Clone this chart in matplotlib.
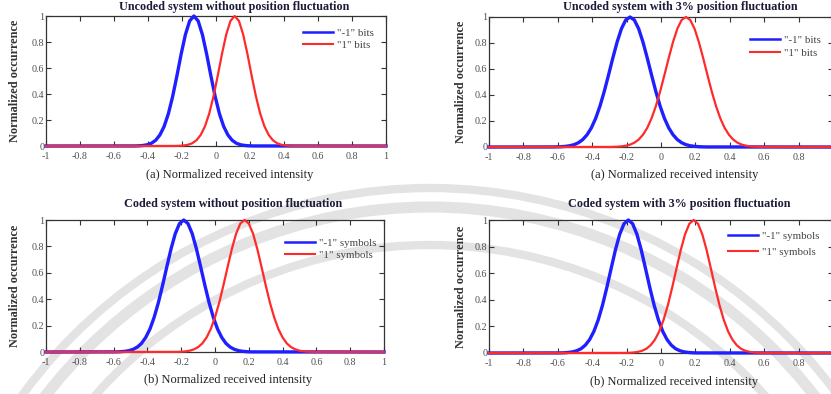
import matplotlib
matplotlib.use("Agg")
import matplotlib.pyplot as plt
from matplotlib.patches import Arc

# ---- data: normalized occurrence vs normalized received intensity ----
# (a) uncoded, no position fluctuation
p1_neg_x = [-1, -0.48, -0.455, -0.43, -0.405, -0.38, -0.355, -0.33, -0.305, -0.28, -0.255,
            -0.23, -0.205, -0.18, -0.155, -0.13, -0.105, -0.08, -0.055, -0.03, -0.005,
            0.02, 0.045, 0.07, 0.095, 0.12, 0.145, 0.17, 0.195, 0.22, 1]
p1_pos_x = [-1, -0.24, -0.215, -0.19, -0.165, -0.14, -0.115, -0.09, -0.065, -0.04, -0.015,
            0.01, 0.035, 0.06, 0.085, 0.11, 0.135, 0.16, 0.185, 0.21, 0.235,
            0.26, 0.285, 0.31, 0.335, 0.36, 0.385, 0.41, 0.435, 0.46, 1]
p1_y = [0, 0.0005, 0.0015, 0.0039, 0.0094, 0.021, 0.044, 0.085, 0.151, 0.249, 0.381,
        0.539, 0.707, 0.857, 0.962, 1.0, 0.962, 0.857, 0.707, 0.539, 0.381,
        0.249, 0.151, 0.085, 0.044, 0.021, 0.0094, 0.0039, 0.0015, 0.0005, 0]

# (a) uncoded, 3% position fluctuation
p2_neg_x = [-1, -0.63, -0.605, -0.58, -0.555, -0.53, -0.505, -0.48, -0.455, -0.43, -0.405,
            -0.38, -0.355, -0.33, -0.305, -0.28, -0.255, -0.23, -0.205, -0.18, -0.155,
            -0.13, -0.105, -0.08, -0.055, -0.03, -0.005, 0.02, 0.045, 0.07, 0.095,
            0.12, 0.145, 0.17, 0.195, 0.22, 0.245, 0.27, 1]
p2_pos_x = [-1, -0.305, -0.28, -0.255, -0.23, -0.205, -0.18, -0.155, -0.13, -0.105, -0.08,
            -0.055, -0.03, -0.005, 0.02, 0.045, 0.07, 0.095, 0.12, 0.145, 0.17,
            0.195, 0.22, 0.245, 0.27, 0.295, 0.32, 0.345, 0.37, 0.395, 0.42,
            0.445, 0.47, 0.495, 0.52, 0.545, 0.57, 0.595, 1]
p2_y = [0, 0.0005, 0.0011, 0.0024, 0.0049, 0.0097, 0.018, 0.033, 0.057, 0.094, 0.147,
        0.220, 0.314, 0.427, 0.554, 0.685, 0.808, 0.910, 0.977, 1.0, 0.977,
        0.910, 0.808, 0.685, 0.554, 0.427, 0.314, 0.220, 0.147, 0.094, 0.057,
        0.033, 0.018, 0.0097, 0.0049, 0.0024, 0.0011, 0.0005, 0]

# (b) coded, no position fluctuation
p3_neg_x = [-1, -0.585, -0.56, -0.535, -0.51, -0.485, -0.46, -0.435, -0.41, -0.385, -0.36,
            -0.335, -0.31, -0.285, -0.26, -0.235, -0.21, -0.185, -0.16, -0.135, -0.11,
            -0.085, -0.06, -0.035, -0.01, 0.015, 0.04, 0.065, 0.09, 0.115, 0.14,
            0.165, 0.19, 0.215, 1]
p3_pos_x = [-1, -0.225, -0.2, -0.175, -0.15, -0.125, -0.1, -0.075, -0.05, -0.025, 0.0,
            0.025, 0.05, 0.075, 0.1, 0.125, 0.15, 0.175, 0.2, 0.225, 0.25,
            0.275, 0.3, 0.325, 0.35, 0.375, 0.4, 0.425, 0.45, 0.475, 0.5,
            0.525, 0.55, 0.575, 1]
p3_y = [0, 0.0009, 0.0022, 0.0048, 0.0099, 0.020, 0.037, 0.065, 0.110, 0.174, 0.263,
        0.374, 0.506, 0.646, 0.782, 0.897, 0.973, 1.0, 0.973, 0.897, 0.782,
        0.646, 0.506, 0.374, 0.263, 0.174, 0.110, 0.065, 0.037, 0.020, 0.0099,
        0.0048, 0.0022, 0.0009, 0]

# (b) coded, 3% position fluctuation
p4_neg_x = [-1, -0.59, -0.565, -0.54, -0.515, -0.49, -0.465, -0.44, -0.415, -0.39, -0.365,
            -0.34, -0.315, -0.29, -0.265, -0.24, -0.215, -0.19, -0.165, -0.14, -0.115,
            -0.09, -0.065, -0.04, -0.015, 0.01, 0.035, 0.06, 0.085, 0.11, 0.135,
            0.16, 0.185, 0.21, 1]
p4_pos_x = [-1, -0.21, -0.185, -0.16, -0.135, -0.11, -0.085, -0.06, -0.035, -0.01, 0.015,
            0.04, 0.065, 0.09, 0.115, 0.14, 0.165, 0.19, 0.215, 0.24, 0.265,
            0.29, 0.315, 0.34, 0.365, 0.39, 0.415, 0.44, 0.465, 0.49, 0.515,
            0.54, 0.565, 0.59, 1]
p4_y = [0, 0.0007, 0.0017, 0.0039, 0.0083, 0.017, 0.032, 0.059, 0.101, 0.163, 0.249,
        0.360, 0.492, 0.635, 0.775, 0.893, 0.972, 1.0, 0.972, 0.893, 0.775,
        0.635, 0.492, 0.360, 0.249, 0.163, 0.101, 0.059, 0.032, 0.017, 0.0083,
        0.0039, 0.0017, 0.0007, 0]

xticks = [-1, -0.8, -0.6, -0.4, -0.2, 0, 0.2, 0.4, 0.6, 0.8, 1]
xtick_labels = ["-1", "-0.8", "-0.6", "-0.4", "-0.2", "0", "0.2", "0.4", "0.6", "0.8", "1"]
yticks = [0, 0.2, 0.4, 0.6, 0.8, 1]
ytick_labels = ["0", "0.2", "0.4", "0.6", "0.8", "1"]

titles = ["Uncoded system without position fluctuation",
          "Uncoded system with 3% position fluctuation",
          "Coded system without position fluctuation",
          "Coded system with 3% position fluctuation"]
xlabels = ["(a) Normalized received intensity", "(a) Normalized received intensity",
           "(b) Normalized received intensity", "(b) Normalized received intensity"]
ylabel = "Normalized occurrence"
legend_labels = [['"-1" bits', '"1" bits'], ['"-1" bits', '"1" bits'],
                 ['"-1" symbols', '"1" symbols'], ['"-1" symbols', '"1" symbols']]

panels = [(p1_neg_x, p1_pos_x, p1_y), (p2_neg_x, p2_pos_x, p2_y),
          (p3_neg_x, p3_pos_x, p3_y), (p4_neg_x, p4_pos_x, p4_y)]

# ---- layout (pixel geometry) ----
W, H = 831, 394
plt.rcParams["font.family"] = ["Liberation Serif", "DejaVu Serif"]
fig = plt.figure(figsize=(W / 100, H / 100), dpi=100)
fig.patch.set_facecolor("white")

# faint seal watermark behind the panels
bg = fig.add_axes([0, 0, 1, 1], zorder=0)
bg.set_xlim(0, W)
bg.set_ylim(H, 0)
bg.axis("off")
seal_c = (430, 693)
for r, lw in [(505, 6), (486, 8), (448, 6)]:
    bg.add_patch(Arc(seal_c, 2 * r, 2 * r, theta1=180, theta2=360,
                     color="#e3e3e3", lw=lw))

def px_rect(l, r, t, b):
    return [l / W, 1 - b / H, (r - l) / W, (b - t) / H]

rects = [px_rect(46, 386, 16, 146), px_rect(489, 833, 17, 147),
         px_rect(46, 384, 220, 352), px_rect(489, 833, 220, 353)]
title_pos = [(234, 7), (680, 7), (233, 204), (679, 204)]
xlabel_pos = [(230, 175), (675, 175), (228, 380), (674, 382)]
ylabel_pos = [(15, 81), (461, 82), (15, 286), (461, 287)]
# legend: (handle start x, top y) and row spacing
legend_anchor = [(303, 28), (750, 35), (285, 238), (728, 231)]
legend_spacing = [0.25, 0.35, 0.22, 0.6]

blue = "#1f1fff"
red = "#ff2a2a"
text_dark = "#1c1c3a"

for i, (nx, px, py) in enumerate(panels):
    ax = fig.add_axes(rects[i], zorder=1)
    ax.set_facecolor("none")
    ax.plot(nx, py, color=blue, lw=2.4, clip_on=False,
            label=legend_labels[i][0], zorder=3)
    ax.plot(px, py, color=red, lw=1.6, clip_on=False,
            label=legend_labels[i][1], zorder=4)
    ax.set_xlim(-1, 1)
    ax.set_ylim(0, 1)
    ax.set_xticks(xticks)
    labels = list(xtick_labels)
    if i in (1, 3):
        labels[-1] = ""  # right edge of the right-hand panels falls outside
    ax.set_xticklabels(labels)
    ax.set_yticks(yticks)
    ax.set_yticklabels(ytick_labels)
    ax.tick_params(direction="in", length=3.5, width=0.8, top=True, right=True,
                   labelsize=7.3, labelcolor="#505050", color="#333333")
    ax.tick_params(axis="x", pad=4.5)
    ax.tick_params(axis="y", pad=1)
    for s in ax.spines.values():
        s.set_color("#333333")
        s.set_linewidth(0.9)

    l_px = rects[i][0] * W
    w_px = rects[i][2] * W
    t_px = H - (rects[i][1] + rects[i][3]) * H
    h_px = rects[i][3] * H
    leg_x, leg_y = legend_anchor[i]
    leg = ax.legend(loc="upper left",
                    bbox_to_anchor=((leg_x - l_px) / w_px, 1 - (leg_y - t_px) / h_px),
                    frameon=False, fontsize=7.8, handlelength=2.8, handletextpad=0.35,
                    labelspacing=legend_spacing[i], borderaxespad=0, borderpad=0,
                    labelcolor="#444444")
    leg.get_lines()[0].set_linewidth(1.8)
    leg.get_lines()[1].set_linewidth(1.5)

    tx, ty = title_pos[i]
    fig.text(tx / W, 1 - ty / H, titles[i], ha="center", va="center",
             fontsize=8.7, fontweight="bold", color=text_dark)
    lx, ly = xlabel_pos[i]
    fig.text(lx / W, 1 - ly / H, xlabels[i], ha="center", va="center",
             fontsize=9, color="#222222")
    yx, yy = ylabel_pos[i]
    fig.text(yx / W, 1 - yy / H, ylabel, ha="center", va="center", rotation=90,
             fontsize=8.8, fontweight="bold", color="#333333")

fig.savefig("out.png", dpi=100, facecolor="white")
